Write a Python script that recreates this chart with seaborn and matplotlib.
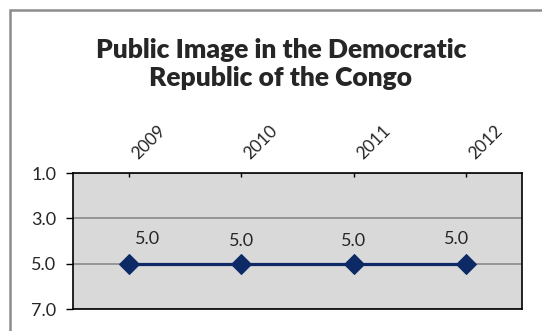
import pandas as pd
import matplotlib.pyplot as plt
from matplotlib.patches import Rectangle
import seaborn as sns

# chart data
years = ['2009', '2010', '2011', '2012']
scores = [5.0, 5.0, 5.0, 5.0]
y_ticks = [1.0, 3.0, 5.0, 7.0]
title = 'Public Image in the Democratic\nRepublic of the Congo'

df = pd.DataFrame({'Year': years, 'Score': scores})

sns.set_style('white')
plt.rcParams['font.family'] = ['Lato', 'DejaVu Sans']

fig = plt.figure(figsize=(5.42, 3.31), dpi=100)
ax = fig.add_axes([73 / 542, 1 - 309 / 331, 449 / 542, 136 / 331])
ax.set_facecolor('#d9d9d9')

sns.lineplot(data=df, x='Year', y='Score', ax=ax, color='#0d2a66', linewidth=2.3,
             marker='D', markersize=10, markeredgecolor='#0d2a66', sort=False, zorder=3)

ax.set_xlim(-0.5, len(years) - 0.5)
ax.set_ylim(7.0, 1.0)
ax.set_yticks(y_ticks)
ax.set_yticklabels([f'{v:.1f}' for v in y_ticks], fontsize=13)
ax.grid(axis='y', color='#8a8a8a', linewidth=1.2)
ax.set_axisbelow(True)

# categories on top, rotated
ax.xaxis.tick_top()
ax.set_xticks(range(len(years)))
ax.set_xticklabels(years, rotation=45, ha='left', va='bottom', fontsize=12.5)
ax.tick_params(axis='x', direction='in', length=3, width=1, pad=8, color='black')
ax.tick_params(axis='y', direction='out', length=5, width=1, pad=7, color='black', left=True)
ax.set_xlabel('')
ax.set_ylabel('')
for s in ax.spines.values():
    s.set_color('black')
    s.set_linewidth(1.2)

# data labels
label_dx = [13, 0, 0, -7]
label_dy = [18, 16, 16, 18]
for i, v in enumerate(scores):
    ax.annotate(f'{v:.1f}', (i, v), xytext=(label_dx[i], label_dy[i]), textcoords='offset points',
                ha='center', va='center', fontsize=13)

fig.text(0.518, 1 - 64 / 331, title, ha='center', va='center', fontsize=19,
         fontweight='heavy', linespacing=1.17)

# outer chart border
fig.add_artist(Rectangle((10 / 542, -0.1), 1.2, 1.1 - 10 / 331, transform=fig.transFigure,
                         fill=False, edgecolor='#8c8c8c', linewidth=1.8, clip_on=False))

fig.savefig('out.png', dpi=100)
